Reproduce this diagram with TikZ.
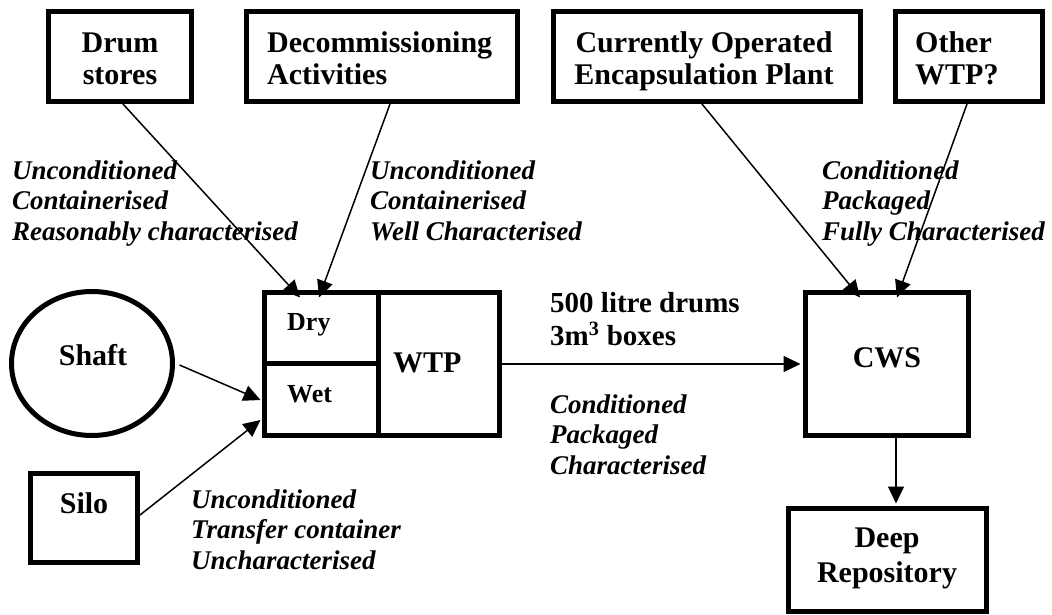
\documentclass[tikz,border=0pt]{standalone}
\usepackage{fontspec}
\setmainfont{Liberation Serif}
\usetikzlibrary{arrows.meta,calc,shapes.geometric}
\begin{document}
\begin{tikzpicture}[x=1pt,y=-1pt,
  box/.style={draw,line width=5pt,rectangle,inner sep=0pt},
  ttl/.style={font=\fontsize{30}{32}\selectfont\bfseries,inner sep=0pt,align=center,anchor=base},
  ttlL/.style={ttl,align=left,anchor=base west},
  lbl/.style={font=\fontsize{27}{30.5}\selectfont\bfseries\itshape,inner sep=0pt,align=left,anchor=base west},
  arr/.style={line width=1.5pt,-{Triangle[length=17pt,width=16pt]}}]
\useasboundingbox (0,0) rectangle (1052,615);
% boxes
\node[box,minimum width=143pt,minimum height=90pt] (drum) at (120,56.5) {};
\node[box,minimum width=271pt,minimum height=90pt] (decom) at (382,56.5) {};
\node[box,minimum width=307pt,minimum height=90pt] (curr) at (707,56.5) {};
\node[box,minimum width=147pt,minimum height=90pt] (other) at (969,56.5) {};
\node[draw,line width=5pt,ellipse,inner sep=0pt,minimum width=161pt,minimum height=144pt] (shaft) at (92,363.5) {};
\node[box,minimum width=107pt,minimum height=89pt] (silo) at (84,518) {};
\node[box,minimum width=113.5pt,minimum height=70.5pt] (dry) at (321.25,327.75) {};
\node[box,minimum width=113.5pt,minimum height=72.5pt] (wet) at (321.25,399.25) {};
\node[box,minimum width=121.5pt,minimum height=143pt] (wtp) at (438.75,364) {};
\node[box,minimum width=163pt,minimum height=143pt] (cws) at (887,364) {};
\node[box,minimum width=198pt,minimum height=103pt] (deep) at (887.5,560) {};
% box texts (anchor base = baseline of the last line)
\node[ttl] (tdrum) at (120,85) {Drum\\stores};
\node[ttlL] (tdecom) at (267,85) {Decommissioning\\Activities};
\node[ttl] (tcurr) at (704,85) {Currently Operated\\Encapsulation Plant};
\node[ttlL] (tother) at (915,85) {Other\\WTP?};
\node[ttl] (tshaft) at (93,365) {Shaft};
\node[ttl] (tsilo) at (84,513) {Silo};
\node[ttlL,font=\fontsize{26}{28}\selectfont\bfseries] (tdry) at (287,330) {Dry};
\node[ttlL,font=\fontsize{26}{28}\selectfont\bfseries] (twet) at (287,402) {Wet};
\node[ttlL] (twtp) at (393,372) {WTP};
\node[ttl] (tcws) at (887,367) {CWS};
\node[ttl,font=\fontsize{30}{35}\selectfont\bfseries] (tdeep) at (887,582.5) {Deep\\Repository};
% labels
\node[lbl] (l1) at (12,240) {Unconditioned\\Containerised\\Reasonably characterised};
\node[lbl] (l2) at (370,240) {Unconditioned\\Containerised\\Well Characterised};
\node[lbl] (l3) at (822,240) {Conditioned\\Packaged\\Fully Characterised};
\node[lbl] (l4) at (550,474) {Conditioned\\Packaged\\Characterised};
\node[lbl] (l5) at (191,569) {Unconditioned\\Transfer container\\Uncharacterised};
\node[ttlL,font=\fontsize{29}{33}\selectfont\bfseries] (l6) at (550,345) {500 litre drums\\3m\textsuperscript{3} boxes};
% connectors
\draw[arr] ($(drum.south)+(3,0)$) -- ($(dry.north)+(-21.25,7.5)$);
\draw[arr] ($(decom.south)+(8,0)$) -- ($(dry.north)+(-2.25,7.5)$);
\draw[arr] ($(curr.south)+(-5,0)$) -- ($(cws.north)+(-27,7.5)$);
\draw[arr] ($(other.south)+(-2,0)$) -- ($(cws.north)+(10,7.5)$);
\draw[arr] ($(shaft.east)+(4.5,1.5)$) -- ($(wet.west)+(-1.5,0.75)$);
\draw[arr] ($(silo.east)+(0,-3)$) -- ($(wet.west)+(-1.5,20.75)$);
\draw[arr] (wtp.east) -- ($(cws.west)+(-2.5,0)$);
\draw[arr] ($(cws.south)+(9,0)$) -- ($(deep.north)+(8.5,-2.5)$);
\end{tikzpicture}
\end{document}
